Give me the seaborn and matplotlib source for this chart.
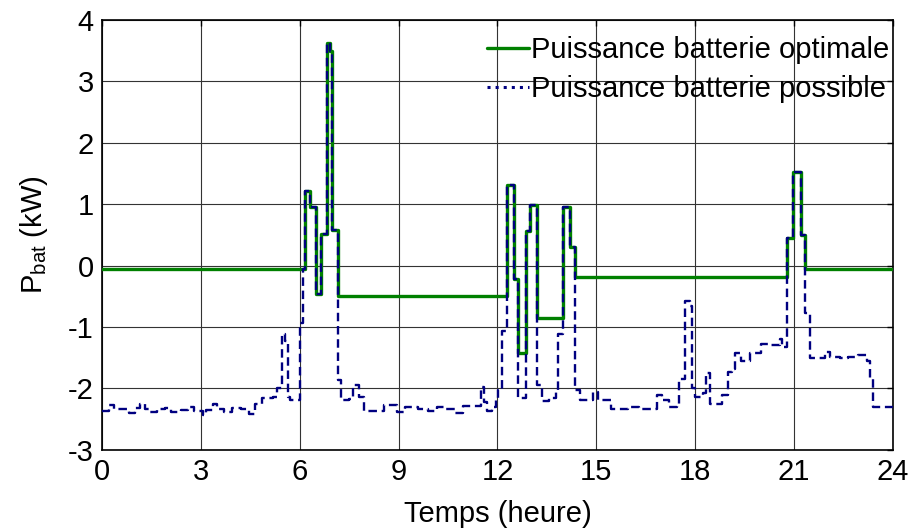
import numpy as np
import pandas as pd
import seaborn as sns
import matplotlib.pyplot as plt
from matplotlib.lines import Line2D

# heure de debut de chaque palier / puissance (kW)
t_opt = [0, 6.17, 6.32, 6.5, 6.65, 6.83, 6.93, 6.98, 7.15, 12.3, 12.5, 12.62, 12.86,
         13.0, 13.2, 14.0, 14.2, 14.35, 20.8, 20.98, 21.2, 21.34, 24]
p_opt = [-0.06, 1.22, 0.95, -0.46, 0.52, 3.62, 3.5, 0.58, -0.5, 1.32, -0.22, -1.43, 0.57,
         0.98, -0.86, 0.95, 0.3, -0.19, 0.45, 1.52, 0.5, -0.05, -0.05]

t_pos = [0.0, 0.2, 0.35, 0.8, 1.0, 1.15, 1.3, 1.45, 1.65, 1.9, 2.1, 2.4, 2.6, 2.8,
         3.05, 3.15, 3.35, 3.5, 3.7, 3.95, 4.2, 4.45, 4.65, 4.85, 5.2, 5.3,
         5.46, 5.56, 5.63, 5.7, 6.0, 6.1, 6.17, 6.32, 6.5, 6.65, 6.83, 6.93, 6.98,
         7.15, 7.26, 7.49, 7.6, 7.8, 7.95, 8.55, 8.95, 9.2, 9.6, 9.9, 10.15, 10.45,
         10.7, 10.95, 11.5, 11.6, 11.68, 11.84, 11.95, 12.02, 12.15, 12.3, 12.5,
         12.62, 12.86, 13.0, 13.2, 13.36, 13.57, 13.77, 13.85, 14.0, 14.2, 14.35,
         14.5, 14.9, 15.05, 15.45, 15.95, 16.3, 16.85, 17.0, 17.2, 17.45, 17.52,
         17.7, 17.85, 17.9, 18.0, 18.25, 18.33, 18.45, 18.8, 19.0, 19.12, 19.2,
         19.4, 19.65, 20.0, 20.3, 20.58, 20.65, 20.8, 20.98, 21.2, 21.34, 21.5,
         21.95, 22.1, 22.4, 22.65, 22.95, 23.22, 23.32, 23.4, 24]
p_pos = [-2.37, -2.27, -2.33, -2.4, -2.32, -2.26, -2.33, -2.38, -2.33, -2.32, -2.38,
         -2.35, -2.3, -2.37, -2.43, -2.35, -2.25, -2.33, -2.38, -2.32, -2.33, -2.41,
         -2.26, -2.16, -2.14, -2.0, -1.12, -1.22, -2.14, -2.18, -0.93, -0.06, 1.22,
         0.95, -0.46, 0.52, 3.62, 3.5, 0.58, -1.86, -2.19, -2.17, -1.94, -2.14,
         -2.36, -2.27, -2.38, -2.3, -2.33, -2.36, -2.3, -2.33, -2.4, -2.28, -1.97,
         -2.22, -2.36, -2.3, -2.16, -2.02, -1.07, 1.32, -0.22, -2.16, 0.57, 0.98,
         -1.94, -2.2, -2.16, -2.03, -1.12, 0.95, 0.3, -2.03, -2.19, -2.05, -2.19,
         -2.33, -2.3, -2.33, -2.11, -2.19, -2.3, -2.25, -1.84, -0.58, -0.66, -2.0,
         -2.14, -2.08, -1.75, -2.25, -2.11, -1.73, -1.68, -1.43, -1.55, -1.43,
         -1.27, -1.3, -1.2, -1.33, 0.45, 1.52, 0.5, -0.77, -1.5, -1.4, -1.48, -1.5,
         -1.48, -1.45, -1.56, -1.84, -2.3, -2.33]

x_ticks = [0, 3, 6, 9, 12, 15, 18, 21, 24]
y_ticks = [-3, -2, -1, 0, 1, 2, 3, 4]

sns.set_theme(style="white")
plt.rcParams['font.family'] = ['Liberation Sans', 'DejaVu Sans']
plt.rcParams['mathtext.default'] = 'regular'
plt.rcParams['axes.unicode_minus'] = False
plt.rcParams['text.color'] = 'black'
plt.rcParams['axes.labelcolor'] = 'black'

vert = '#008000'
bleu = '#000080'
fs = 21

fig = plt.figure(figsize=(9.12, 5.28), dpi=100)
ax = fig.add_axes([0.112, 0.148, 0.867, 0.814])

sns.lineplot(x=t_opt, y=p_opt, ax=ax, color=vert, lw=2.4, drawstyle='steps-post', zorder=3)
sns.lineplot(x=t_pos, y=p_pos, ax=ax, color=bleu, lw=1.7, drawstyle='steps-post',
             linestyle=(0, (3.6, 2)), zorder=4)

ax.set_xlim(0, 24)
ax.set_ylim(-3, 4)
ax.set_xticks(x_ticks)
ax.set_yticks(y_ticks)
ax.grid(True, color='0.2', lw=0.8)
ax.tick_params(direction='in', top=True, right=True, length=4, width=1,
               labelsize=fs, colors='black', pad=6)
for s in ax.spines.values():
    s.set_color('black')
    s.set_linewidth(1.2)

ax.set_xlabel('Temps (heure)', fontsize=fs, labelpad=10)
ax.set_ylabel('P$_{bat}$ (kW)', fontsize=fs, labelpad=13)

handles = [Line2D([], [], color=vert, lw=2.4),
           Line2D([], [], color=bleu, lw=2.2, linestyle=':')]
ax.legend(handles, ['Puissance batterie optimale', 'Puissance batterie possible'],
          loc='upper right', bbox_to_anchor=(0.995, 0.962), frameon=False,
          fontsize=fs, handlelength=1.45, handletextpad=0.05, labelspacing=0.38,
          borderaxespad=0, borderpad=0)

fig.savefig('out.png', dpi=100)
